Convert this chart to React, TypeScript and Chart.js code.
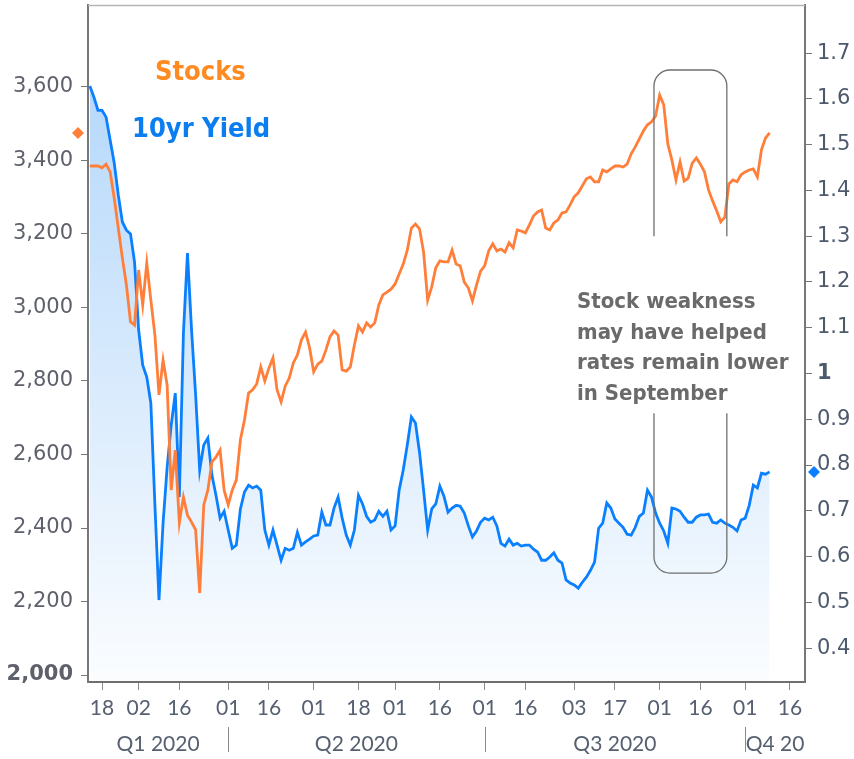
import React, { useEffect, useRef } from 'react';
import { Chart, registerables } from 'chart.js';

Chart.register(...registerables);

// x = trading-day index, 0 = Tue 18 Feb 2020 (data runs 12 Feb .. 9 Oct 2020)
const FIRST_DAY = -3;

// S&P 500 close, one value per trading day
const stocks: number[] = [
  3385, 3385, 3385, 3380, 3390, 3369, 3298, 3216, 3135, 3061,
  2961, 2952, 3102, 3007, 3121, 3020, 2925, 2762, 2857, 2789,
  2503, 2612, 2414, 2484, 2435, 2416, 2395, 2223, 2463, 2503,
  2580, 2593, 2612, 2503, 2463, 2503, 2531, 2640, 2694, 2767,
  2776, 2792, 2838, 2800, 2835, 2863, 2776, 2743, 2786, 2808,
  2849, 2871, 2912, 2933, 2890, 2825, 2846, 2854, 2884, 2920,
  2936, 2925, 2830, 2827, 2838, 2898, 2950, 2933, 2958, 2947,
  2958, 3007, 3034, 3042, 3050, 3064, 3091, 3118, 3156, 3216,
  3227, 3214, 3151, 3020, 3056, 3108, 3127, 3124, 3124, 3156,
  3118, 3113, 3069, 3053, 3018, 3061, 3099, 3113, 3154, 3173,
  3154, 3159, 3151, 3176, 3162, 3211, 3208, 3203, 3225, 3249,
  3260, 3265, 3216, 3211, 3230, 3238, 3257, 3260, 3279, 3301,
  3312, 3331, 3350, 3355, 3342, 3342, 3374, 3369, 3377, 3385,
  3385, 3382, 3390, 3418, 3437, 3459, 3480, 3497, 3505, 3521,
  3578, 3551, 3445, 3401, 3347, 3396, 3344, 3352, 3393, 3407,
  3390, 3369, 3320, 3290, 3263, 3233, 3246, 3336, 3347, 3342,
  3361, 3369, 3374, 3377, 3355, 3429, 3461, 3475,
];

// 10yr Treasury yield (%), one value per trading day
const yields: number[] = [
  1.628, 1.604, 1.575, 1.575, 1.56, 1.51, 1.46, 1.39, 1.331, 1.313,
  1.305, 1.243, 1.095, 1.018, 0.992, 0.935, 0.712, 0.505, 0.673, 0.795,
  0.887, 0.957, 0.73, 1.088, 1.263, 1.095, 0.953, 0.789, 0.844, 0.859,
  0.778, 0.734, 0.684, 0.699, 0.658, 0.618, 0.625, 0.704, 0.741, 0.756,
  0.75, 0.754, 0.745, 0.658, 0.625, 0.658, 0.625, 0.592, 0.618, 0.614,
  0.618, 0.653, 0.625, 0.632, 0.638, 0.645, 0.647, 0.697, 0.669, 0.669,
  0.706, 0.73, 0.684, 0.647, 0.625, 0.658, 0.734, 0.715, 0.688, 0.675,
  0.68, 0.699, 0.688, 0.699, 0.658, 0.667, 0.745, 0.789, 0.844, 0.905,
  0.892, 0.828, 0.745, 0.658, 0.704, 0.715, 0.754, 0.732, 0.697, 0.706,
  0.712, 0.71, 0.695, 0.667, 0.643, 0.656, 0.675, 0.684, 0.68, 0.686,
  0.667, 0.629, 0.623, 0.638, 0.625, 0.629, 0.623, 0.625, 0.625, 0.616,
  0.61, 0.592, 0.592, 0.599, 0.608, 0.592, 0.586, 0.549, 0.542, 0.538,
  0.531, 0.544, 0.555, 0.57, 0.588, 0.662, 0.673, 0.717, 0.706, 0.682,
  0.673, 0.664, 0.649, 0.647, 0.664, 0.688, 0.695, 0.745, 0.73, 0.695,
  0.673, 0.656, 0.629, 0.706, 0.704, 0.699, 0.686, 0.675, 0.675, 0.686,
  0.691, 0.691, 0.693, 0.675, 0.673, 0.68, 0.673, 0.669, 0.664, 0.656,
  0.68, 0.684, 0.712, 0.756, 0.75, 0.782, 0.78, 0.785,
];

const days: number[] = stocks.map((_, i) => FIRST_DAY + i);

// x-axis ticks (trading-day index) and their day-of-month labels
const tickDays = [0, 9, 19, 31, 41, 52, 63, 72, 83, 94, 104, 116, 126, 137, 147, 158, 169];
const tickLabels = ['18', '02', '16', '01', '16', '01', '18', '01', '16', '01', '16', '03', '17', '01', '16', '01', '16'];

// quarter bands
const quarterBreaks = [31, 94, 158]; // 1 Apr, 1 Jul, 1 Oct
const quarterLabels = ['Q1 2020', 'Q2 2020', 'Q3 2020', 'Q4 20'];

const stockTicks = [2000, 2200, 2400, 2600, 2800, 3000, 3200, 3400, 3600];
const yieldTicks = [0.4, 0.5, 0.6, 0.7, 0.8, 0.9, 1.0, 1.1, 1.2, 1.3, 1.4, 1.5, 1.6, 1.7];

const noteLines = ['Stock weakness', 'may have helped', 'rates remain lower', 'in September'];

const X_MIN = -3.44;
const X_MAX = 172.7;
const STOCK_MIN = 1981;
const STOCK_MAX = 3823;
const YIELD_MIN = 0.326;
const YIELD_MAX = 1.805;

const ORANGE = '#ff7f3a';
const BLUE = '#0a80ff';
const CONDENSED = '"DejaVu Sans Condensed", "DejaVu Sans", sans-serif';

const overlay = {
  id: 'overlay',
  afterDraw(chart: any) {
    const { ctx, chartArea: ca, scales } = chart;
    const xs = scales.x;
    const ys = scales.y;
    const yy = scales.y1;
    ctx.save();

    // top frame line
    ctx.strokeStyle = '#b4b4b4';
    ctx.lineWidth = 1.5;
    ctx.beginPath();
    ctx.moveTo(ca.left, ca.top + 0.5);
    ctx.lineTo(ca.right, ca.top + 0.5);
    ctx.stroke();

    // rounded annotation box with a gap for the text
    const bx0 = xs.getPixelForValue(135.6);
    const bx1 = xs.getPixelForValue(153.5);
    const by0 = yy.getPixelForValue(1.663);
    const by1 = yy.getPixelForValue(0.564);
    const g0 = yy.getPixelForValue(1.3);
    const g1 = yy.getPixelForValue(0.913);
    const r = 16;
    ctx.strokeStyle = '#6f6f6f';
    ctx.lineWidth = 1.3;
    ctx.beginPath();
    ctx.moveTo(bx0, g0);
    ctx.lineTo(bx0, by0 + r);
    ctx.arcTo(bx0, by0, bx0 + r, by0, r);
    ctx.lineTo(bx1 - r, by0);
    ctx.arcTo(bx1, by0, bx1, by0 + r, r);
    ctx.lineTo(bx1, g0);
    ctx.moveTo(bx0, g1);
    ctx.lineTo(bx0, by1 - r);
    ctx.arcTo(bx0, by1, bx0 + r, by1, r);
    ctx.lineTo(bx1 - r, by1);
    ctx.arcTo(bx1, by1, bx1, by1 - r, r);
    ctx.lineTo(bx1, g1);
    ctx.stroke();

    // annotation text
    ctx.fillStyle = '#6a6a6a';
    ctx.font = `bold 22px ${CONDENSED}`;
    ctx.textAlign = 'left';
    ctx.textBaseline = 'alphabetic';
    const tx = xs.getPixelForValue(116.7);
    const ty = yy.getPixelForValue(1.143);
    noteLines.forEach((s, i) => ctx.fillText(s, tx, ty + i * 30.7));

    // series labels
    ctx.font = `bold 27px ${CONDENSED}`;
    ctx.fillStyle = '#ff8a20';
    ctx.fillText('Stocks', ca.left + 67, ca.top + 75);
    ctx.fillStyle = '#0a7df0';
    ctx.fillText('10yr Yield', ca.left + 44, ca.top + 132);

    // last-value diamonds on the axes
    const diamond = (cx: number, cy: number, color: string) => {
      ctx.fillStyle = color;
      ctx.beginPath();
      ctx.moveTo(cx, cy - 6);
      ctx.lineTo(cx + 6, cy);
      ctx.lineTo(cx, cy + 6);
      ctx.lineTo(cx - 6, cy);
      ctx.closePath();
      ctx.fill();
    };
    diamond(ca.left - 10, ys.getPixelForValue(stocks[stocks.length - 1]), ORANGE);
    diamond(ca.right + 9, yy.getPixelForValue(yields[yields.length - 1]), BLUE);

    // quarter labels and separators
    const bounds = [X_MIN, ...quarterBreaks, X_MAX].map((v) => xs.getPixelForValue(v));
    ctx.strokeStyle = '#8a8a8a';
    ctx.lineWidth = 1;
    quarterBreaks.forEach((q) => {
      const px = Math.round(xs.getPixelForValue(q)) + 0.5;
      ctx.beginPath();
      ctx.moveTo(px, ca.bottom + 45);
      ctx.lineTo(px, ca.bottom + 70);
      ctx.stroke();
    });
    ctx.font = '21px Lato, "DejaVu Sans", sans-serif';
    ctx.fillStyle = '#566070';
    ctx.textAlign = 'center';
    ctx.textBaseline = 'middle';
    quarterLabels.forEach((s, i) => {
      ctx.fillText(s, (bounds[i] + bounds[i + 1]) / 2, ca.bottom + 62);
    });
    ctx.restore();
  },
};

const noPad = (s: any) => {
  s.paddingTop = 0;
  s.paddingBottom = 0;
  s.paddingLeft = 0;
  s.paddingRight = 0;
};

export default function App() {
  const ref = useRef<HTMLCanvasElement | null>(null);

  useEffect(() => {
    if (!ref.current) return;
    const fillGradient = (c: any) => {
      const chart = c.chart;
      const ca = chart.chartArea;
      if (!ca) return 'rgba(0,120,240,0.15)';
      const g = chart.ctx.createLinearGradient(0, ca.top, 0, ca.bottom);
      g.addColorStop(0, 'rgba(0,120,240,0.32)');
      g.addColorStop(1, 'rgba(0,120,240,0.015)');
      return g;
    };

    const chart = new Chart(ref.current, {
      type: 'line',
      data: {
        datasets: [
          {
            label: 'Stocks',
            data: days.map((d, i) => ({ x: d, y: stocks[i] })),
            yAxisID: 'y',
            borderColor: ORANGE,
            borderWidth: 2.8,
            pointRadius: 0,
            fill: false,
            tension: 0,
          },
          {
            label: '10yr Yield',
            data: days.map((d, i) => ({ x: d, y: yields[i] })),
            yAxisID: 'y1',
            borderColor: BLUE,
            borderWidth: 2.8,
            pointRadius: 0,
            fill: 'start',
            backgroundColor: fillGradient,
            tension: 0,
          },
        ],
      },
      options: {
        animation: false,
        responsive: false,
        devicePixelRatio: 1,
        layout: { padding: { top: 5, left: 0, right: 0, bottom: 0 } },
        plugins: { legend: { display: false }, tooltip: { enabled: false } },
        scales: {
          x: {
            type: 'linear',
            min: X_MIN,
            max: X_MAX,
            afterBuildTicks: (s: any) => {
              s.ticks = tickDays.map((v) => ({ value: v }));
            },
            afterFit: (s: any) => {
              s.height = 77;
              noPad(s);
            },
            ticks: {
              autoSkip: false,
              maxRotation: 0,
              padding: 6,
              color: '#566070',
              font: { family: 'Lato, "DejaVu Sans", sans-serif', size: 21 },
              callback: (v: any) => {
                const k = tickDays.indexOf(Number(v));
                return k >= 0 ? tickLabels[k] : '';
              },
            },
            grid: { drawOnChartArea: false, tickLength: 8, color: '#8a8a8a' },
            border: { color: '#6e6e6e', width: 2 },
          },
          y: {
            type: 'linear',
            position: 'left',
            min: STOCK_MIN,
            max: STOCK_MAX,
            afterBuildTicks: (s: any) => {
              s.ticks = stockTicks.map((v) => ({ value: v }));
            },
            afterFit: (s: any) => {
              s.width = 88;
              noPad(s);
            },
            ticks: {
              padding: 8,
              color: '#5e616b',
              font: (c: any) => ({
                family: '"DejaVu Sans", sans-serif',
                size: 21,
                weight: c.tick && c.tick.value === 2000 ? 'bold' : 'normal',
              }),
              callback: (v: any) => Number(v).toLocaleString('en-US'),
            },
            grid: { drawOnChartArea: false, tickLength: 7, color: '#777' },
            border: { color: '#777', width: 2 },
          },
          y1: {
            type: 'linear',
            position: 'right',
            min: YIELD_MIN,
            max: YIELD_MAX,
            afterBuildTicks: (s: any) => {
              s.ticks = yieldTicks.map((v) => ({ value: v }));
            },
            afterFit: (s: any) => {
              s.width = 49;
              noPad(s);
            },
            ticks: {
              padding: 5,
              color: '#4e5a6c',
              font: (c: any) => ({
                family: '"DejaVu Sans", sans-serif',
                size: 21,
                weight: c.tick && Math.abs(c.tick.value - 1) < 1e-6 ? 'bold' : 'normal',
              }),
              callback: (v: any) => String(Number(Number(v).toFixed(1))),
            },
            grid: { drawOnChartArea: false, tickLength: 7, color: '#777' },
            border: { color: '#777', width: 2 },
          },
        },
      },
      plugins: [overlay],
    });
    return () => chart.destroy();
  }, []);

  return (
    <div style={{ position: 'absolute', left: 0, top: 0, width: 854, height: 759, background: '#fff' }}>
      <canvas ref={ref} width={854} height={759} style={{ width: 854, height: 759, display: 'block' }} />
    </div>
  );
}
